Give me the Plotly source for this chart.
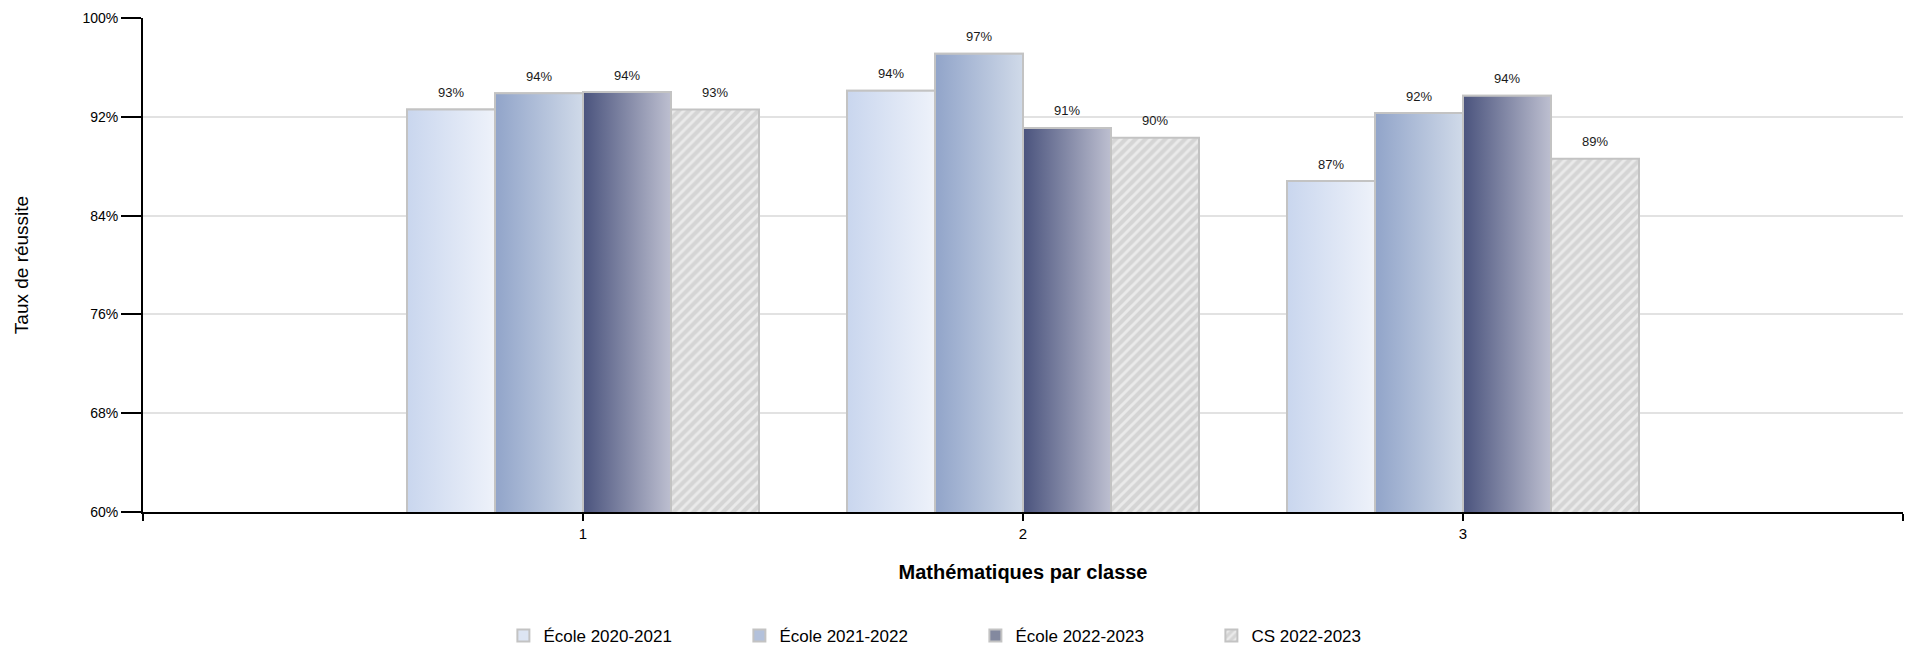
import plotly.graph_objects as go

# ---- data ----
categories = [1, 2, 3]
series_names = ["École 2020-2021", "École 2021-2022", "École 2022-2023", "CS 2022-2023"]
ecole_2020_2021 = [92.6, 94.1, 86.8]
ecole_2021_2022 = [93.9, 97.1, 92.3]
ecole_2022_2023 = [94.0, 91.1, 93.7]
cs_2022_2023 = [92.6, 90.3, 88.6]
y_ticks = [60, 68, 76, 84, 92, 100]
y_tick_labels = ["60%", "68%", "76%", "84%", "92%", "100%"]
x_ticks = [0, 1, 2, 3, 4]
x_tick_labels = ["", "1", "2", "3", ""]

series_values = [ecole_2020_2021, ecole_2021_2022, ecole_2022_2023, cs_2022_2023]

# ---- styles ----
FONT = "Liberation Sans, Arial, sans-serif"
solid = ["#dde5f3", "#b3c1db", "#83899f", "#d8d8d8"]
gradients = [("#c9d6ee", "#eef2fa"), ("#91a4c9", "#d0dae9"), ("#4a537d", "#bdbfd0"), None]
outline = "#c3c3c3"
n_series = len(series_values)
group_width = 0.8
bar_w = group_width / n_series

fig = go.Figure()

for i, (name, vals) in enumerate(zip(series_names, series_values)):
    marker = dict(color=solid[i], line=dict(color=outline, width=2))
    if gradients[i] is None:
        marker["pattern"] = dict(shape="/", bgcolor="#d5d5d5", fgcolor="#ffffff",
                                 size=7, solidity=0.42, fillmode="overlay")
    fig.add_trace(go.Bar(
        x=categories, y=vals, name=name, marker=marker,
        hoverinfo="name+y",
    ))

# gradient fill overlays on the grouped bars (same data, same axes)
for i, vals in enumerate(series_values):
    if gradients[i] is None:
        continue
    c_left, c_right = gradients[i]
    for c, v in zip(categories, vals):
        x0 = c - group_width / 2 + i * bar_w
        x1 = x0 + bar_w
        fig.add_trace(go.Scatter(
            x=[x0, x1, x1, x0, x0], y=[0, 0, v, v, 0],
            mode="lines", fill="toself",
            fillgradient=dict(type="horizontal", colorscale=[[0, c_left], [1, c_right]]),
            line=dict(color=outline, width=2),
            showlegend=False, hoverinfo="skip",
        ))

# value labels above each bar
annotations = []
for i, vals in enumerate(series_values):
    for c, v in zip(categories, vals):
        xc = c - group_width / 2 + (i + 0.5) * bar_w
        annotations.append(dict(
            x=xc, y=v, xref="x", yref="y", text=f"{v:.0f}%",
            showarrow=False, yshift=17,
            font=dict(family=FONT, size=13, color="#1a1a1a"),
        ))

fig.update_layout(
    width=1914, height=653,
    paper_bgcolor="white", plot_bgcolor="white",
    margin=dict(l=143, r=11, t=18, b=141, autoexpand=False),
    barmode="group", bargap=0.2, bargroupgap=0,
    font=dict(family=FONT, color="#000000"),
    showlegend=True,
    annotations=annotations,
    legend=dict(
        orientation="h", xref="container", yref="container",
        x=0.263, xanchor="left", y=0.026, yanchor="middle",
        font=dict(family=FONT, size=17, color="#000000"),
        entrywidth=191, traceorder="normal",
    ),
    xaxis=dict(
        range=[0, 4], tickvals=x_ticks, ticktext=x_tick_labels,
        showline=True, linecolor="#000000", linewidth=2,
        ticks="outside", ticklen=7, tickwidth=2, tickcolor="#000000",
        showgrid=False, zeroline=False,
        tickfont=dict(family=FONT, size=15, color="#000000"),
        title=dict(text="<b>Mathématiques par classe</b>",
                   font=dict(family=FONT, size=20, color="#000000"), standoff=24),
    ),
    yaxis=dict(
        range=[60, 100], tickvals=y_ticks, ticktext=y_tick_labels,
        showline=True, linecolor="#000000", linewidth=2,
        ticks="outside", ticklen=20, tickwidth=2, tickcolor="#000000",
        showgrid=True, gridcolor="#e2e2e2", gridwidth=2, zeroline=False,
        tickfont=dict(family=FONT, size=14, color="#000000"),
        title=dict(text="Taux de réussite",
                   font=dict(family=FONT, size=19, color="#000000"), standoff=49),
    ),
)

fig.write_html("out.html", config={"displayModeBar": False},
               post_script="document.body.style.margin='0';")
